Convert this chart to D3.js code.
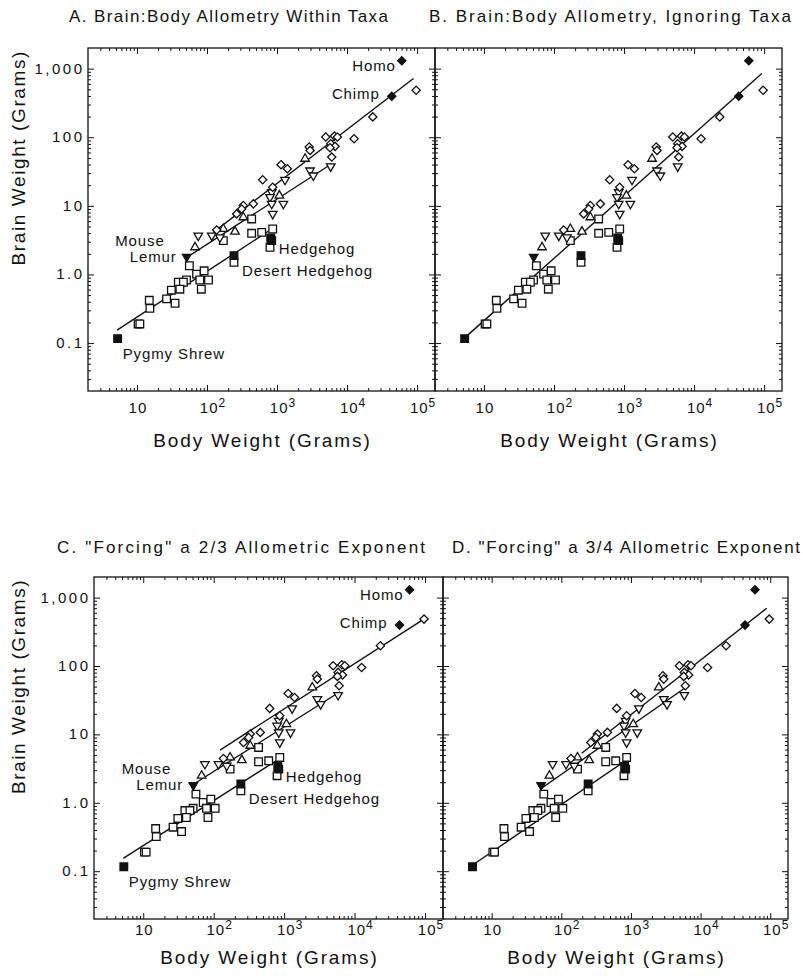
<!DOCTYPE html>
<html><head><meta charset="utf-8">
<script src="https://cdn.jsdelivr.net/npm/d3@7"></script>
<style>
body{margin:0;background:#fff}
text{font-family:"Liberation Sans",Arial,sans-serif;fill:#111}
</style>
</head><body><svg id="c" width="803" height="976"></svg>
<script>
// ---------- data (grams) ----------
const xTickValues = [10, 100, 1000, 10000, 100000];
const xTickBase = ["10", "10", "10", "10", "10"];
const xTickExp = ["", "2", "3", "4", "5"];
const yTickValues = [0.1, 1, 10, 100, 1000];
const yTickLabels = ["0.1", "1.0", "10", "100", "1,000"];
const panelTitles = ["A. Brain:Body Allometry Within Taxa", "B. Brain:Body Allometry, Ignoring Taxa",
  "C. \"Forcing\" a 2/3 Allometric Exponent", "D. \"Forcing\" a 3/4 Allometric Exponent"];

// insectivores (open squares): [body, brain]
const insectivores = [[434,6.44],[171,3.11],[434,3.98],[604,4.11],[867,4.6],[794,2.49],[243,1.5],
  [56,1.34],[71,1.01],[91,1.13],[79,0.83],[105,0.83],[51,0.83],[39,0.77],[46,0.77],[41,0.61],
  [31,0.59],[35,0.38],[26.5,0.44],[15,0.42],[15.3,0.32],[10.4,0.19],[11,0.19],[83,0.61]];
const insectivoresNamed = [["Pygmy Shrew",5.3,0.116],["Desert Hedgehog",243,1.88],["Hedgehog",812,3.4],["",839,3.11]];
// prosimians
const prosimiansUp = [[67.5,2.49],[251,4.21],[330,6.82],[171,4.6],[2512,48.6],[1079,14.1]];
const prosimiansDown = [[75,3.68],[117,3.68],[153,3.48],[1300,24],[839,15.8],[1231,10.7],[867,7.63],
  [2960,32.8],[3300,27.7],[5840,37.6],[794,13.4],[839,10.7]];
const prosimiansNamed = [["Mouse Lemur",51.3,1.81]];
// anthropoids (open diamonds)
const anthropoids = [[96800,485],[23280,198],[12590,95],[4960,101],[6590,104],[7280,101],[5840,80.6],
  [6740,73.7],[5710,70.4],[6040,51.4],[2880,72],[2960,64.3],[1140,39.7],[1405,34.7],[624,24],[867,18.7],
  [459,10.7],[330,10.1],[265,7.63],[137.5,4.45],[313,9.0]];
const anthropoidsNamed = [["Homo",60400,1303],["Chimp",43450,396]];

// regression lines per panel: [body0, brain0, body1, brain1]
const fitLinesA = [[5.2,0.154,840,4.6],[51.3,1.77,6040,41.1],[123,4.11,88700,718]];
const fitLinesB = [[5.35,0.12,92700,851]];
const fitLinesC = [[5.2,0.154,873,4.47],[54.3,1.93,6210,42],[123,5.9,100000,498]];
const fitLinesD = [[4.9,0.116,869,4.23],[52,1.63,6310,49.8],[196,5.3,89000,697]];

// ---------- layout ----------
const svg = d3.select("#c");
const panels = [
  {x0:88, x1:435, y0:48, y1:391, lines:fitLinesA, labels:true, yLab:true, title:panelTitles[0], tx:69, tw:319, ty:22, tl:22, at:56},
  {x0:435, x1:782, y0:48, y1:391, lines:fitLinesB, labels:false, yLab:false, title:panelTitles[1], tx:429, tw:362, ty:22, tl:22, at:56},
  {x0:94, x1:443, y0:577, y1:919, lines:fitLinesC, labels:true, yLab:true, title:panelTitles[2], tx:57, tw:368, ty:553, tl:16, at:45},
  {x0:443, x1:788, y0:577, y1:919, lines:fitLinesD, labels:false, yLab:false, title:panelTitles[3], tx:452, tw:348, ty:553, tl:16, at:45}
];

function minorTicks(lo, hi){
  const out=[];
  for(let e=-3;e<7;e++){for(let m=2;m<=9;m++){const v=m*Math.pow(10,e); if(v>lo*1.0001&&v<hi*0.9999) out.push(v);}}
  return out;
}

const sq = d3.symbol().type(d3.symbolSquare).size(58)();
const dm = d3.symbol().type(d3.symbolSquare).size(34)();
const tri = d3.symbol().type(d3.symbolTriangle).size(32)();

panels.forEach(p=>{
  const x = d3.scaleLog().domain([2,180000]).range([p.x0,p.x1]);
  const y = d3.scaleLog().domain([0.02,2000]).range([p.y1,p.y0]);
  const g = svg.append("g");
  const xm = minorTicks(2,180000), ym = minorTicks(0.02,2000);
  const mk = (axisFn, scale, vals, size, tr)=>{
    g.append("g").attr("transform",tr)
      .call(axisFn(scale).tickValues(vals).tickSizeInner(-size).tickSizeOuter(0).tickFormat(""))
      .call(a=>{a.select(".domain").remove(); a.selectAll("line").attr("stroke","#111").attr("stroke-width",1);});
  };
  mk(d3.axisBottom,x,xTickValues,6,`translate(0,${p.y1})`);
  mk(d3.axisBottom,x,xm,3,`translate(0,${p.y1})`);
  mk(d3.axisTop,x,xTickValues,6,`translate(0,${p.y0})`);
  mk(d3.axisTop,x,xm,3,`translate(0,${p.y0})`);
  mk(d3.axisLeft,y,yTickValues,6,`translate(${p.x0},0)`);
  mk(d3.axisLeft,y,ym,3,`translate(${p.x0},0)`);
  mk(d3.axisRight,y,yTickValues,6,`translate(${p.x1},0)`);
  mk(d3.axisRight,y,ym,3,`translate(${p.x1},0)`);
  g.append("rect").attr("x",p.x0).attr("y",p.y0).attr("width",p.x1-p.x0).attr("height",p.y1-p.y0)
    .attr("fill","none").attr("stroke","#111").attr("stroke-width",1.3);

  const line = d3.line().x(d=>x(d[0])).y(d=>y(d[1]));
  p.lines.forEach(l=>{
    g.append("path").attr("d",line([[l[0],l[1]],[l[2],l[3]]])).attr("stroke","#111").attr("stroke-width",1.4).attr("fill","none");
  });

  const pts = (arr, path, fill, rot)=>{
    g.selectAll(null).data(arr).enter().append("path")
      .attr("d",path)
      .attr("transform",d=>{const o=d.length===3?1:0; return `translate(${x(d[o])},${y(d[o+1])}) rotate(${rot})`;})
      .attr("fill",fill).attr("stroke","#111").attr("stroke-width",1.3);
  };
  pts(insectivores, sq, "#fff", 0);
  pts(prosimiansUp, tri, "#fff", 0);
  pts(prosimiansDown, tri, "#fff", 180);
  pts(anthropoids, dm, "#fff", 45);
  pts(insectivoresNamed, sq, "#111", 0);
  pts(prosimiansNamed, tri, "#111", 180);
  pts(anthropoidsNamed, dm, "#111", 45);

  xTickValues.forEach((v,i)=>{
    const t = g.append("text").attr("x",x(v)+(xTickExp[i]?6:1)).attr("y",p.y1+p.tl).attr("text-anchor","middle")
      .attr("font-size",15).attr("letter-spacing",1);
    t.append("tspan").text(xTickBase[i]);
    if(xTickExp[i]) t.append("tspan").attr("dy",-6).attr("font-size",12).text(xTickExp[i]);
  });
  if(p.yLab){
    yTickValues.forEach((v,i)=>{
      g.append("text").attr("x",p.x0-3.5).attr("y",y(v)+5).attr("text-anchor","end").attr("font-size",15)
        .attr("letter-spacing",2.5).text(yTickLabels[i]);
    });
    const cy = p.y0 + (p.y1-p.y0)*0.32;
    g.append("text").attr("transform",`translate(25,${cy}) rotate(-90)`).attr("text-anchor","middle")
      .attr("font-size",19).attr("letter-spacing",1.6).text("Brain Weight (Grams)");
  }
  g.append("text").attr("x",(p.x0+p.x1)/2 + 1).attr("y",p.y1+p.at).attr("text-anchor","middle")
    .attr("font-size",19).attr("letter-spacing",1.9).text("Body Weight (Grams)");
  g.append("text").attr("x",p.tx).attr("y",p.ty).attr("font-size",17).attr("textLength",p.tw)
    .attr("lengthAdjust","spacing").text(p.title);

  if(p.labels){
    const lab = (txt, xv, yv, dx, dy, anchor)=>g.append("text").attr("x",x(xv)+dx).attr("y",y(yv)+dy)
      .attr("text-anchor",anchor).attr("font-size",15).attr("letter-spacing",0.9).text(txt);
    const h = anthropoidsNamed[0], c = anthropoidsNamed[1], ml = prosimiansNamed[0];
    const ps = insectivoresNamed[0], dh = insectivoresNamed[1], hh = insectivoresNamed[2];
    lab(h[0], h[1], h[2], -6, 10, "end");
    lab(c[0], c[1], c[2], -12, 3, "end");
    lab("Mouse", ml[1], ml[2], -22, -11, "end");
    lab("Lemur", ml[1], ml[2], -10, 5, "end");
    lab(hh[0], hh[1], hh[2], 8, 16, "start");
    lab(dh[0], dh[1], dh[2], 8, 20, "start");
    lab(ps[0], ps[1], ps[2], 5, 20, "start");
  }
});
</script></body></html>
